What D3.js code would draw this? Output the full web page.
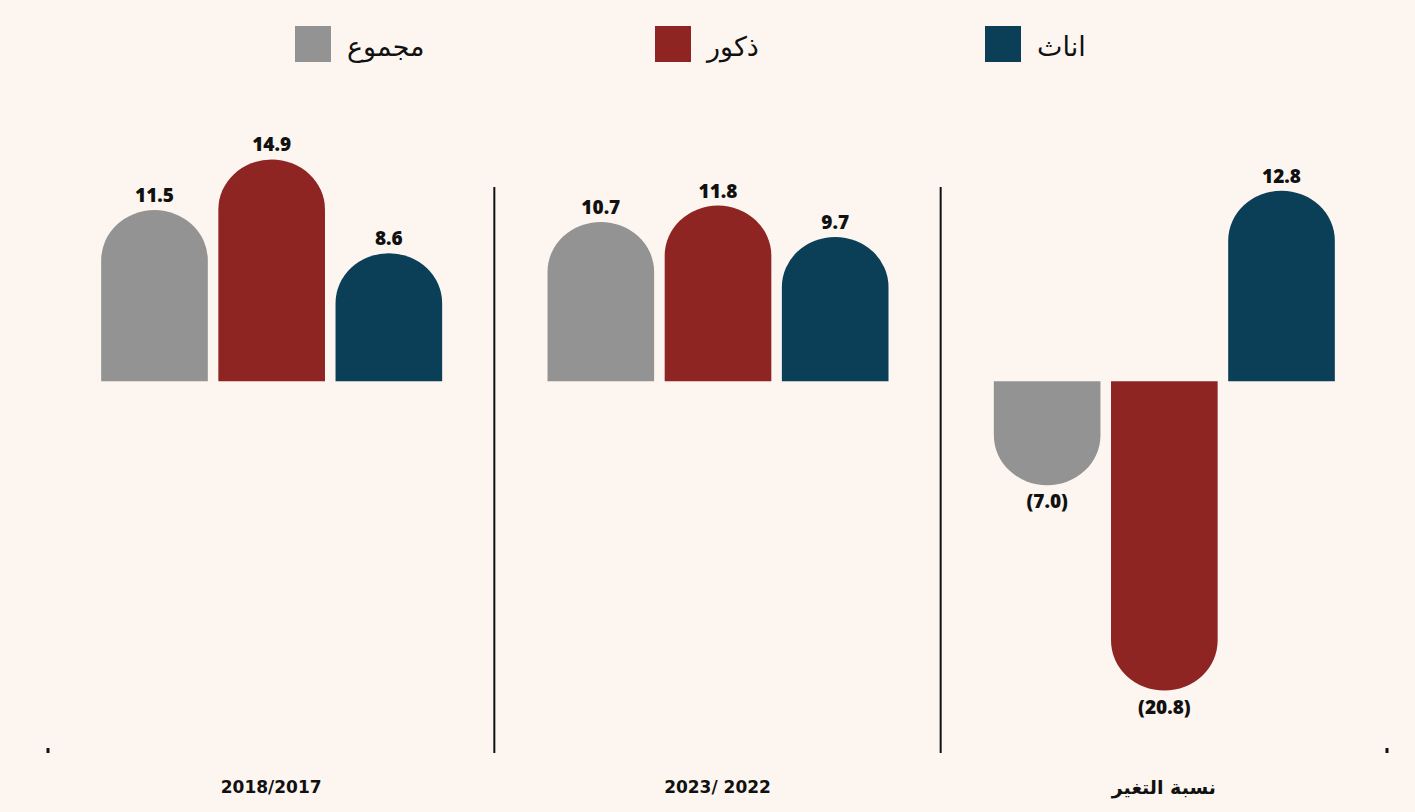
<!DOCTYPE html>
<html>
<head>
<meta charset="utf-8">
<script src="https://cdn.jsdelivr.net/npm/d3@7"></script>
<style>
body { margin: 0; background: #fdf6f0; }
svg { display: block; }
</style>
</head>
<body>
<svg id="mainSvg" width="1415" height="812"></svg>
<script>
// data
var groups = ["2018/2017", "2023/ 2022", "نسبة التغير"];
var series = ["مجموع", "ذكور", "اناث"];
var colors = ["#939393", "#8e2523", "#0b3f57"];
var totalVals = [11.5, 10.7, -7.0];
var maleVals = [14.9, 11.8, -20.8];
var femaleVals = [8.6, 9.7, 12.8];

var width = 1415, height = 812;
var svg = d3.select("#mainSvg");
svg.append("rect").attr("width", width).attr("height", height).attr("fill", "#fdf6f0");

var x0 = d3.scaleBand().domain(groups).range([48, 1387]).paddingInner(0).paddingOuter(0);
var x1 = d3.scaleBand().domain(series).range([0, 341]).paddingInner(0.09);
var y = d3.scaleLinear().domain([-25, 15]).range([753, 158]);

var valsBySeries = [totalVals, maleVals, femaleVals];
var data = [];
groups.forEach(function(g, gi) {
	series.forEach(function(s, si) {
		data.push({group: g, series: s, value: valsBySeries[si][gi], color: colors[si]});
	});
});

function barX(d)
{
	return x0(d.group) + (x0.bandwidth() - 341) / 2 + x1(d.series) + 0.5;
}

function barPath(d)
{
	var x = barX(d);
	var w = x1.bandwidth();
	var base = y(0), end = y(d.value);
	var rx = w / 2, ry = Math.min(50, Math.abs(base - end));
	if(d.value >= 0)
		return "M" + x + "," + base + "V" + (end + ry) + "A" + rx + "," + ry + " 0 0 1 " + (x + w) + "," + (end + ry) + "V" + base + "Z";
	return "M" + x + "," + base + "V" + (end - ry) + "A" + rx + "," + ry + " 0 0 0 " + (x + w) + "," + (end - ry) + "V" + base + "Z";
}

svg.selectAll("path.bar").data(data).enter().append("path")
	.attr("class", "bar")
	.attr("d", barPath)
	.attr("fill", function(d) { return d.color; });

svg.selectAll("text.val").data(data).enter().append("text")
	.attr("class", "val")
	.attr("x", function(d) { return barX(d) + x1.bandwidth() / 2; })
	.attr("y", function(d) { return d.value >= 0 ? y(d.value) - 8 : y(d.value) + 23; })
	.attr("text-anchor", "middle")
	.attr("font-family", "'Open Sans', sans-serif")
	.attr("font-weight", 800)
	.attr("font-size", 19)
	.attr("fill", "#111")
	.text(function(d) { return d.value < 0 ? "(" + Math.abs(d.value).toFixed(1) + ")" : d.value.toFixed(1); });

// separators between groups
svg.selectAll("line.sep").data(groups.slice(1)).enter().append("line")
	.attr("class", "sep")
	.attr("x1", function(d) { return x0(d); })
	.attr("x2", function(d) { return x0(d); })
	.attr("y1", 187).attr("y2", 753)
	.attr("stroke", "#111").attr("stroke-width", 2);

// bottom axis (outer ticks only)
var axis = svg.append("g").attr("transform", "translate(0,753)")
	.call(d3.axisBottom(x0).tickSize(0).tickPadding(28));
axis.select(".domain").attr("stroke", "#111").attr("stroke-width", 3).attr("d", "M48,-5V0M1387,-5V0");
axis.selectAll("text")
	.attr("font-family", "'DejaVu Sans', sans-serif")
	.attr("font-weight", "bold")
	.attr("font-size", function(d, i) { return i == 2 ? 19 : 17; })
	.attr("fill", "#111");

// legend
var legendX = [295, 655, 985];
var leg = svg.selectAll("g.leg").data(series).enter().append("g")
	.attr("class", "leg")
	.attr("transform", function(d, i) { return "translate(" + legendX[i] + ",26)"; });
leg.append("rect").attr("width", 36).attr("height", 36).attr("fill", function(d, i) { return colors[i]; });
leg.append("text").attr("x", 52).attr("y", 30)
	.attr("font-family", "'DejaVu Sans', sans-serif")
	.attr("font-size", 27)
	.attr("fill", "#111")
	.attr("text-anchor", "start")
	.attr("direction", "ltr")
	.text(function(d) { return d; });
</script>
</body>
</html>
